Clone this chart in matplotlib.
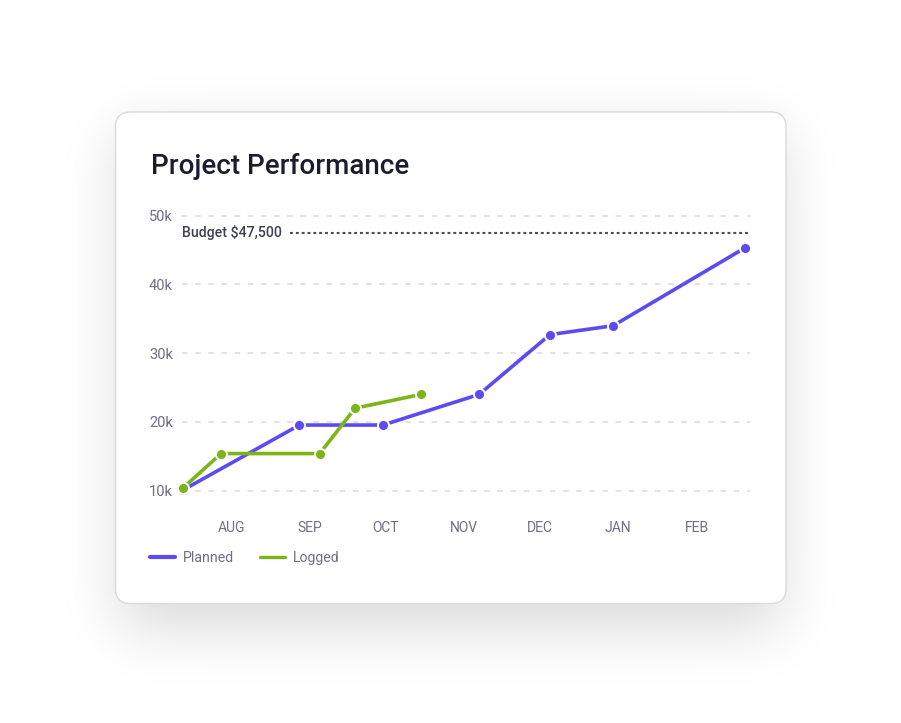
import numpy as np
import matplotlib
matplotlib.use("Agg")
import matplotlib.pyplot as plt
from matplotlib.patches import FancyBboxPatch
from matplotlib.lines import Line2D
import pandas as pd

plt.rcParams['font.family'] = ['Roboto', 'DejaVu Sans']

# ---------------- data ----------------
title = "Project Performance"
series_names = ["Planned", "Logged"]
planned_dates = ["2023-07-13", "2023-08-28", "2023-09-30", "2023-11-07",
                 "2023-12-05", "2023-12-30", "2024-02-20"]
planned_values = [10100, 19550, 19550, 24000, 32700, 34000, 45300]
logged_dates = ["2023-07-13", "2023-07-28", "2023-09-05", "2023-09-19", "2023-10-15"]
logged_values = [10400, 15400, 15400, 22000, 24000]
budget_value = 47500
budget_label = "Budget $47,500"
y_ticks = [10000, 20000, 30000, 40000, 50000]
y_tick_labels = ["10k", "20k", "30k", "40k", "50k"]
month_ticks = ["2023-08-01", "2023-09-01", "2023-10-01", "2023-11-01",
               "2023-12-01", "2024-01-01", "2024-02-01"]
month_labels = ["AUG", "SEP", "OCT", "NOV", "DEC", "JAN", "FEB"]

# ---------------- style ----------------
PURPLE = "#5a4cf0"
GREEN = "#7cb518"
TICK_C = "#6e6f80"
W, H = 901, 723

fig = plt.figure(figsize=(W / 100, H / 100), dpi=100)
fig.patch.set_facecolor("white")

# background / shadow / card
bg = fig.add_axes([0, 0, 1, 1], zorder=0)
bg.set_xlim(0, W)
bg.set_ylim(H, 0)
bg.axis("off")

mask = np.zeros((H, W))
mask[132:628, 120:781] = 1.0
sigma = 30
r = int(3 * sigma)
xk = np.arange(-r, r + 1)
k = np.exp(-0.5 * (xk / sigma) ** 2)
k /= k.sum()
blur = np.apply_along_axis(lambda v: np.convolve(v, k, mode="same"), 1, mask)
blur = np.apply_along_axis(lambda v: np.convolve(v, k, mode="same"), 0, blur)
rgba = np.zeros((H, W, 4))
rgba[..., 3] = 0.15 * blur
bg.imshow(rgba, extent=(0, W, H, 0), aspect="auto", interpolation="bilinear")

card = FancyBboxPatch((115.5, 112), 670.5, 491.5,
                      boxstyle="round,pad=0,rounding_size=15",
                      fc="white", ec="#d9d9df", lw=1)
bg.add_patch(card)

fig.text(151 / W, 1 - 174.3 / H, title, fontsize=20, fontweight="medium",
         color="#1b1d2e", va="baseline", ha="left", zorder=5)

# main axes
x0, x1, ytop, ybot = 182, 750, 215.7, 490.7
ax = fig.add_axes([x0 / W, 1 - ybot / H, (x1 - x0) / W, (ybot - ytop) / H], zorder=2)
ax.set_facecolor("none")
for s in ax.spines.values():
    s.set_visible(False)

ax.set_ylim(10000, 50000)
ax.set_xlim(pd.Timestamp("2023-07-12 14:00"), pd.Timestamp("2024-02-22 02:00"))

for yv in y_ticks:
    ax.axhline(yv, color="#d8d8e6", lw=1.1, dashes=(3.6, 5.0), zorder=1,
               clip_on=False)

ax.axhline(budget_value, xmin=0.19, xmax=1.0, color="#4b4d5f", lw=1.5,
           dashes=(1.4, 1.4), zorder=2)
ax.text(ax.get_xlim()[0], budget_value, budget_label, va="center", ha="left",
        fontsize=10.2, fontweight="medium", color="#3f4152", zorder=3)

ax.plot(pd.to_datetime(planned_dates), planned_values, color=PURPLE, lw=2.6,
        marker="o", ms=8, mfc=PURPLE, mec="white", mew=1.4,
        solid_capstyle="round", zorder=3, clip_on=False)
ax.plot(pd.to_datetime(logged_dates), logged_values, color=GREEN, lw=2.6,
        marker="o", ms=8, mfc=GREEN, mec="white", mew=1.4,
        solid_capstyle="round", zorder=4, clip_on=False)

ax.set_yticks(y_ticks, y_tick_labels)
ax.set_xticks(pd.to_datetime(month_ticks), month_labels)
ax.tick_params(axis="y", length=0, pad=6.5, labelsize=10.5, labelcolor=TICK_C)
ax.tick_params(axis="x", length=0, pad=22, labelsize=10, labelcolor=TICK_C)

handles = [Line2D([], [], color=PURPLE, lw=3, solid_capstyle="round"),
           Line2D([], [], color=GREEN, lw=2.4, solid_capstyle="round")]
fig.legend(handles, series_names, loc="center left",
           bbox_to_anchor=(150 / W, 1 - 558 / H), ncol=2, frameon=False,
           fontsize=10.2, handlelength=1.75, handletextpad=0.6,
           columnspacing=1.8, borderpad=0, borderaxespad=0,
           labelcolor=TICK_C)

fig.savefig("out.png", dpi=100, facecolor="white")
